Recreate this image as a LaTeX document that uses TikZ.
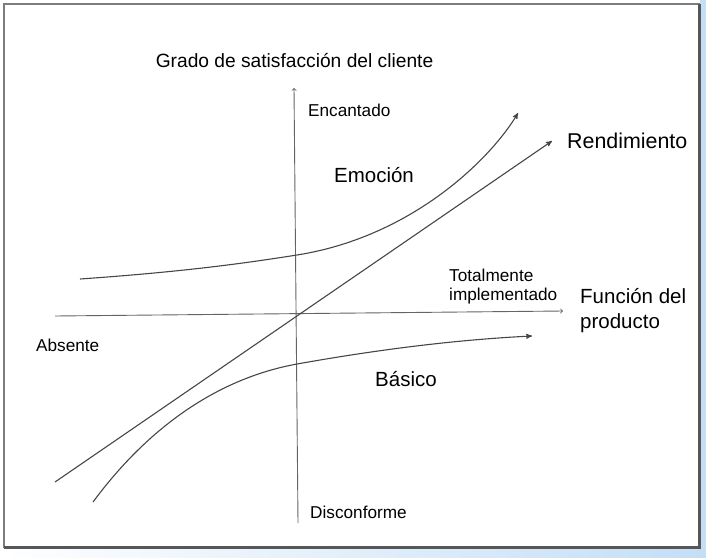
\documentclass[tikz,border=0pt]{standalone}
\usepackage{fontspec}
\setmainfont{Liberation Sans}
\usetikzlibrary{arrows,positioning}

\definecolor{framegray}{RGB}{125,125,125}
\definecolor{bandblue}{RGB}{196,222,246}
\definecolor{linegray}{RGB}{70,70,70}
\definecolor{axisgray}{RGB}{100,100,100}

\begin{document}
\begin{tikzpicture}[x=1pt,y=-1pt,>=stealth',
    axis/.style={draw=axisgray,line width=0.9pt,-to},
    curve/.style={draw=linegray,line width=1.1pt,->},
    lbl/.style={inner sep=0pt,font=\fontsize{17.2}{19}\selectfont},
    big/.style={inner sep=0pt,font=\fontsize{20.5}{25}\selectfont}]

    \useasboundingbox (0,0) rectangle (706,557);

    % frame
    \fill[bandblue] (700,0) rectangle (706,557);
    \shade[left color=white,right color=bandblue] (0,549) rectangle (706,557);
    \draw[framegray,line width=1.5pt] (4,4) rectangle (699,547);
    \draw[framegray!70!black,line width=3pt] (4,547) -- (699,547) -- (699,4);

    % axes
    \coordinate (xstart) at (55,316);
    \coordinate (xend) at (563,311);
    \coordinate (ystart) at (298,523);
    \coordinate (yend) at (294,88);

    \draw[axis] (xstart) -- (xend);
    \draw[axis] (ystart) -- (yend);

    % curves
    \coordinate (emoStart) at (80,279);
    \coordinate (emoMid) at (297,255);
    \coordinate (emoEnd) at (518,113);
    \coordinate (basStart) at (93,502);
    \coordinate (basMid) at (297,364);
    \coordinate (basEnd) at (532,336);
    \coordinate (rendStart) at (55,482);
    \coordinate (rendEnd) at (552,141);

    \draw[curve] (emoStart) .. controls (180,272) and (240,264) .. (emoMid)
                 .. controls (411,237) and (490,160) .. (emoEnd);
    \draw[curve] (basStart) .. controls (150,425) and (220,378) .. (basMid)
                 .. controls (370,351) and (450,340) .. (basEnd);
    \draw[curve] (rendStart) -- (rendEnd);

    % labels
    \node[lbl,font=\fontsize{19.2}{22}\selectfont] (grado) at (294.5,61) {Grado de satisfacción del cliente};
    \node[lbl,anchor=west] (enc) at (308,110) {Encantado};
    \node[lbl,anchor=west] (dis) at (310,512) {Disconforme};
    \node[lbl,anchor=west] (abs) at (36,345) {Absente};
    \node[lbl,align=left,anchor=south west] (tot) at (449,304) {Totalmente\\implementado};
    \node[big,align=left] (fun) [right=17pt of xend] {Función del\\producto};
    \node[big] (emo) at (374,175) {Emoción};
    \node[big] (bas) at (406,379) {Básico};
    \node[big,font=\fontsize{21.4}{25}\selectfont] (rend) [right=15pt of rendEnd] {Rendimiento};

\end{tikzpicture}
\end{document}
